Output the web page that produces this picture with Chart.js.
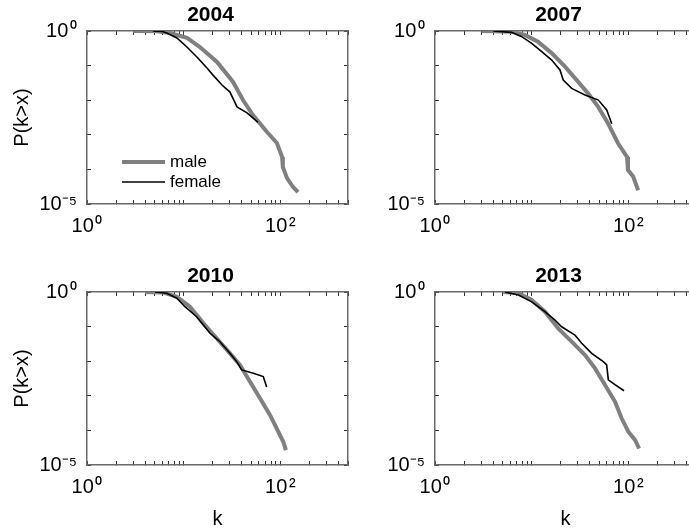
<!DOCTYPE html>
<html>
<head>
<meta charset="utf-8">
<title>P(k>x) by year</title>
<script src="https://cdn.jsdelivr.net/npm/chart.js@4"></script>
<style>
  html, body { margin: 0; padding: 0; background: #fff; width: 689px; height: 529px; overflow: hidden; position: relative; }
  canvas { position: absolute; }
</style>
</head>
<body>
<canvas id="p2004" width="352" height="262" style="left:0;top:0"></canvas>
<canvas id="p2007" width="352" height="262" style="left:348px;top:0"></canvas>
<canvas id="p2010" width="352" height="267" style="left:0;top:262px"></canvas>
<canvas id="p2013" width="352" height="267" style="left:348px;top:262px"></canvas>
<script>
// --- axes ---
const xTickValues = [1, 2, 3, 4, 5, 6, 7, 8, 9, 10, 20, 30, 40, 50, 60, 70, 80, 90, 100, 200, 300, 400, 500];
const xTickText = ['10\u200a\u2070', '', '', '', '', '', '', '', '', '', '', '', '', '', '', '', '', '', '10\u200a\u00b2', '', '', '', ''];
const yTickValues = [1e-5, 1e-4, 1e-3, 1e-2, 1e-1, 1];
const yTickText = ['10\u207b\u2075', '', '', '', '', '10\u200a\u2070'];

// --- data: degree k and P(k>x) ---
const male2004K = [3.0, 5.3, 7.2, 10.8, 14.7, 22.1, 32.4, 41, 52, 72.7, 92, 104, 106, 117, 135, 152];
const male2004P = [1, 0.99, 0.875, 0.63, 0.345, 0.127, 0.0336, 0.0101, 0.00373, 0.0012, 5.8e-4, 2.3e-4, 1.17e-4, 5.6e-5, 3.1e-5, 2.2e-5];
const female2004K = [4.8, 6.0, 6.7, 8.5, 10.8, 13.7, 17.4, 20.1, 24.9, 30.1, 35.6, 45.2, 58.7];
const female2004P = [1, 0.97, 0.875, 0.63, 0.345, 0.177, 0.085, 0.053, 0.0275, 0.0172, 0.0064, 0.0043, 0.0023];

const male2007K = [3.04, 6.2, 8.5, 11.6, 16.2, 22.1, 30.1, 38.2, 48.5, 61.5, 78, 96.8, 99, 112, 126];
const male2007P = [1, 0.95, 0.77, 0.49, 0.226, 0.093, 0.0343, 0.0158, 0.0065, 0.00215, 5.7e-4, 2.3e-4, 9.6e-5, 6.2e-5, 2.5e-5];
const female2007K = [4.0, 6.2, 7.9, 10, 12.7, 16.1, 19.6, 21.2, 25.9, 35.6, 48.9, 59.7, 67.2];
const female2007P = [1, 0.915, 0.685, 0.44, 0.253, 0.145, 0.0746, 0.0384, 0.022, 0.0141, 0.0101, 0.0052, 0.0021];

const male2010K = [3.98, 6.1, 8.5, 11.6, 16, 21.9, 30.1, 38.2, 48.5, 61.5, 78, 95, 107, 114];
const male2010P = [1, 0.97, 0.73, 0.376, 0.124, 0.0459, 0.0169, 0.0078, 0.00256, 8.5e-4, 2.8e-4, 9.2e-5, 4.7e-5, 2.7e-5];
const female2010K = [5.05, 6.7, 8.5, 10.3, 13.6, 18.7, 23.7, 30.1, 35.3, 39.8, 52.5, 66.5, 72.1];
const female2010P = [1, 0.92, 0.66, 0.376, 0.193, 0.064, 0.0366, 0.0169, 0.0097, 0.0056, 0.0045, 0.0036, 0.0018];

const male2013K = [5.09, 7.3, 10, 13.7, 18.8, 25.9, 35.6, 45.2, 57.3, 72.6, 85.3, 99.8, 117, 129];
const male2013P = [1, 0.92, 0.59, 0.27, 0.089, 0.0366, 0.0151, 0.0062, 0.00205, 6.8e-4, 2.2e-4, 9.2e-5, 5.3e-5, 3.0e-5];
const female2013K = [5.3, 7.3, 10, 13.7, 17.4, 20.4, 28, 32.9, 41.7, 55, 59.6, 62, 72.6, 90.1];
const female2013P = [1, 0.82, 0.52, 0.27, 0.155, 0.099, 0.057, 0.0329, 0.0169, 0.0097, 0.0078, 0.0029, 0.0021, 0.0014];

const FONT = '"Liberation Sans", Arial, Helvetica, sans-serif';
Chart.defaults.font.family = FONT;
Chart.defaults.color = '#000';
Chart.defaults.animation = false;

function pts(ks, ps) {
    return ks.map((k, i) => ({ x: k, y: ps[i] }));
}

// box axis with inward tick marks (negative tick length)
function logAxis(pos, min, max, values, text, size, title) {
    return {
        type: 'logarithmic',
        position: pos,
        axis: (pos === 'bottom' || pos === 'top') ? 'x' : 'y',
        min: min,
        max: max,
        afterBuildTicks: s => { s.ticks = values.map(v => ({ value: v })); },
        afterFit: s => {
            if (s.isHorizontal()) s.height = size; else s.width = size;
            // no extra margin for labels hanging past the ends
            s.paddingLeft = s.paddingRight = s.paddingTop = s.paddingBottom = 0;
        },
        ticks: {
            display: !!text,
            autoSkip: false,
            maxRotation: 0,
            padding: 14,
            font: { size: 20 },
            callback: (v, i) => text ? text[i] : ''
        },
        grid: { drawOnChartArea: false, drawTicks: true, tickLength: -4, tickColor: '#333', tickWidth: 1 },
        border: { display: true, color: '#6a6a6a', width: 1.5 },
        title: title || { display: false }
    };
}

const insideLegend = {
    id: 'insideLegend',
    afterDatasetsDraw(chart) {
        const { ctx, chartArea } = chart;
        const rows = [chartArea.bottom - 42, chartArea.bottom - 22];
        ctx.save();
        chart.data.datasets.forEach((ds, i) => {
            ctx.strokeStyle = ds.borderColor;
            ctx.lineWidth = ds.borderWidth;
            ctx.beginPath();
            ctx.moveTo(chartArea.left + 35, rows[i]);
            ctx.lineTo(chartArea.left + 78, rows[i]);
            ctx.stroke();
            ctx.fillStyle = '#000';
            ctx.font = '17px ' + FONT;
            ctx.textBaseline = 'middle';
            ctx.fillText(ds.label, chartArea.left + 83, rows[i]);
        });
        ctx.restore();
    }
};

// matlab puts the titles a little left of the axes centre
const titleNudge = {
    id: 'titleNudge',
    afterLayout(chart) {
        const t = chart.titleBlock;
        if (t) { t.left -= 7; t.right -= 7; }
    }
};

function makePanel(id, year, mK, mP, fK, fP, isLeft, isBottom, withLegend) {
    const yTitle = isLeft ? { display: true, text: 'P(k>x)', font: { size: 20 }, padding: { top: 10, bottom: 0 } } : null;
    const xTitle = isBottom ? { display: true, text: 'k', font: { size: 20, lineHeight: 1 }, padding: { top: 0, bottom: 0 } } : null;
    const plugins = [titleNudge];
    if (withLegend) plugins.push(insideLegend);

    new Chart(document.getElementById(id), {
        type: 'scatter',
        data: {
            datasets: [
                { label: 'male', data: pts(mK, mP), showLine: true, borderColor: '#808080', borderWidth: 4, pointRadius: 0, tension: 0, order: 2 },
                { label: 'female', data: pts(fK, fP), showLine: true, borderColor: '#000000', borderWidth: 1.6, pointRadius: 0, tension: 0, order: 1 }
            ]
        },
        options: {
            responsive: false,
            devicePixelRatio: 1,
            layout: { padding: { left: 0, right: 4, top: 0, bottom: 0 } },
            plugins: {
                legend: { display: false },
                tooltip: { enabled: false },
                title: {
                    display: true,
                    text: year,
                    fullSize: false,
                    font: { size: 21, weight: 'bold' },
                    padding: { top: isBottom ? 2 : 3, bottom: 2.8 }
                }
            },
            scales: {
                x: logAxis('bottom', 1, 500, xTickValues, xTickText, isBottom ? 64 : 58, xTitle),
                x2: logAxis('top', 1, 500, xTickValues, null, 0, null),
                y: logAxis('left', 1e-5, 1, yTickValues, yTickText, 87, yTitle),
                y2: logAxis('right', 1e-5, 1, yTickValues, null, 0, null)
            }
        },
        plugins: plugins
    });
}

makePanel('p2004', '2004', male2004K, male2004P, female2004K, female2004P, true, false, true);
makePanel('p2007', '2007', male2007K, male2007P, female2007K, female2007P, false, false, false);
makePanel('p2010', '2010', male2010K, male2010P, female2010K, female2010P, true, true, false);
makePanel('p2013', '2013', male2013K, male2013P, female2013K, female2013P, false, true, false);
</script>
</body>
</html>
